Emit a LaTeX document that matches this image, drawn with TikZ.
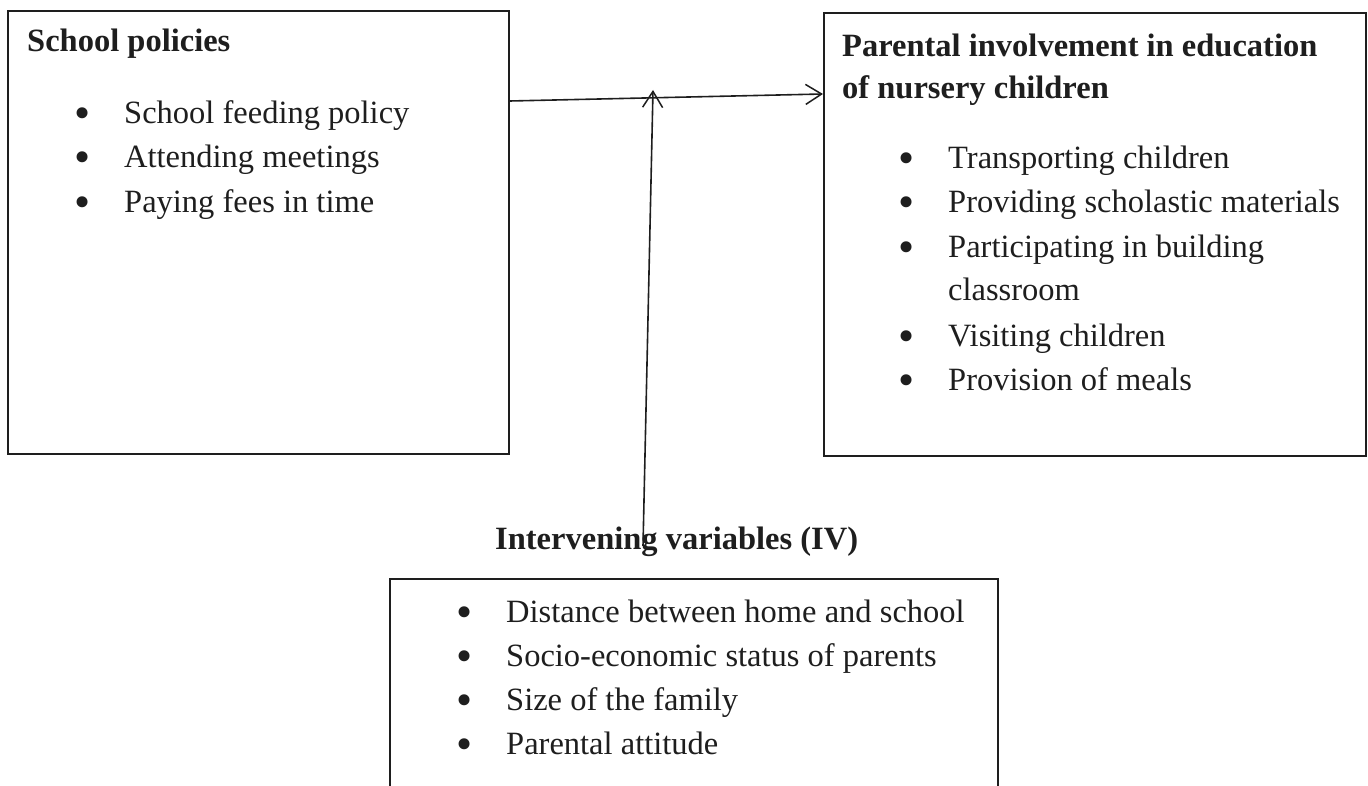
\documentclass[tikz,border=0pt]{standalone}
\usepackage{fontspec}
\setmainfont{Liberation Serif}
\usetikzlibrary{arrows.meta}
\definecolor{ink}{HTML}{1E1E1E}
\tikzset{
  box/.style={draw=ink, line width=1.7pt, fill=none, inner sep=0pt, anchor=north west},
  txt/.style={inner sep=0pt, anchor=base west, text=ink, font=\fontsize{32.5}{40}\selectfont},
  head/.style={txt, font=\fontsize{32.5}{40}\selectfont\bfseries},
  bul/.style={inner sep=0pt, anchor=base, text=ink, font=\fontsize{46}{50}\selectfont, yshift=-5pt},
  conn/.style={draw=ink, line width=1.6pt, -{Straight Barb[length=16pt,width=20pt,line width=1.5pt]}}
}
\begin{document}
\begin{tikzpicture}[x=1pt,y=-1pt]
\useasboundingbox (0,0) rectangle (1368,786);
\clip (0,0) rectangle (1368,786);
% boxes
\node[box, minimum width=501pt, minimum height=443pt] (sp) at (7,10) {};
\node[box, minimum width=542pt, minimum height=443pt] (pi) at (823,12) {};
\node[box, minimum width=608pt, minimum height=240pt] (iv) at (389,578) {};
% left box text
\node[head] (sph) at (27,52) {School policies};
\node[bul] (spb1) at (83,124) {•};
\node[txt] (spt1) at (124,124) {School feeding policy};
\node[bul] (spb2) at (83,168) {•};
\node[txt] (spt2) at (124,168) {Attending meetings};
\node[bul] (spb3) at (83,213) {•};
\node[txt] (spt3) at (124,213) {Paying fees in time};
% right box text
\node[head] (pih1) at (842,57) {Parental involvement in education};
\node[head] (pih2) at (842,99) {of nursery children};
\node[bul] (pib1) at (907,169) {•};
\node[txt] (pit1) at (948,169) {Transporting children};
\node[bul] (pib2) at (907,213) {•};
\node[txt] (pit2) at (948,213) {Providing scholastic materials};
\node[bul] (pib3) at (907,258) {•};
\node[txt] (pit3) at (948,258) {Participating in building};
\node[txt] (pit3b) at (948,301) {classroom};
\node[bul] (pib4) at (907,346) {•};
\node[txt] (pit4) at (948,346) {Visiting children};
\node[bul] (pib5) at (907,390) {•};
\node[txt] (pit5) at (948,390) {Provision of meals};
% intervening
\node[head] (ivh) at (495,549) {Intervening variables (IV)};
\node[bul] (ivb1) at (465,622) {•};
\node[txt] (ivt1) at (506,622) {Distance between home and school};
\node[bul] (ivb2) at (465,666) {•};
\node[txt] (ivt2) at (506,666) {Socio-economic status of parents};
\node[bul] (ivb3) at (465,710) {•};
\node[txt] (ivt3) at (506,710) {Size of the family};
\node[bul] (ivb4) at (465,754) {•};
\node[txt] (ivt4) at (506,754) {Parental attitude};
% connectors
\coordinate (a1) at (sp.east |- 0,101);
\coordinate (a2) at (pi.west |- 0,94);
\draw[conn] (a1) -- (a2);
\coordinate (v1) at (643,546);
\coordinate (v2) at (653,90);
\draw[conn] (v1) -- (v2);
\end{tikzpicture}
\end{document}
